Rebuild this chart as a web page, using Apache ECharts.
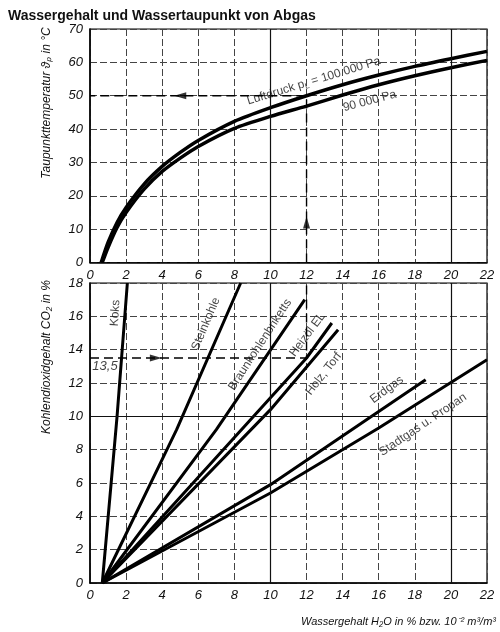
<!DOCTYPE html>
<html lang="de">
<head>
  <meta charset="UTF-8">
  <title>Wassergehalt und Wassertaupunkt von Abgas</title>
  <script src="https://cdn.jsdelivr.net/npm/echarts@6/dist/echarts.min.js"></script>
  <style>
    html, body { margin: 0; padding: 0; background: #fff; }
    #chart { width: 500px; height: 632px; }
  </style>
</head>
<body>
<div id="chart"></div>
<script>
  // Achsen-Teilung
  var xTicks = [0, 2, 4, 6, 8, 10, 12, 14, 16, 18, 20, 22]
  var dewTicks = [0, 10, 20, 30, 40, 50, 60, 70]
  var co2Ticks = [0, 2, 4, 6, 8, 10, 12, 14, 16, 18]

  // Taupunktkurven [H2O %, Taupunkt °C]
  var dew100k = [[0.62, 0], [1, 6], [1.5, 12], [2, 16.5], [3, 23.5], [4, 28.8], [5, 33], [6, 36.6], [8, 42.3],
    [10, 46.4], [12, 50], [14, 53.3], [16, 56.2], [18, 58.8], [20, 61.1], [22, 63.3]]
  var dew90k = [[0.68, 0], [1, 4.5], [1.5, 10.5], [2, 15], [3, 22], [4, 27.3], [5, 31.3], [6, 34.8], [8, 40.2],
    [10, 43.8], [12, 46.9], [14, 50.2], [16, 53.3], [18, 56], [20, 58.4], [22, 60.6]]

  // Brennstoffgeraden [H2O %, CO2 %]
  var koks = [[0.68, 0], [1.5, 10], [2.07, 18]]
  var steinkohle = [[0.68, 0], [4.8, 9.2], [8.35, 18]]
  var braunkohle = [[0.68, 0], [7.0, 9.2], [11.9, 17.0]]
  var heizoel = [[0.68, 0], [12, 13.5], [13.4, 15.6]]
  var holzTorf = [[0.68, 0], [10, 10.4], [13.75, 15.2]]
  var erdgas = [[0.68, 0], [10, 5.9], [18.6, 12.2]]
  var stadtgas = [[0.68, 0], [10, 5.4], [16, 9.3], [22, 13.4]]

  // Ablesebeispiel: CO2 13,5 % -> H2O 12 % -> Taupunkt 50 °C
  var exCo2 = 13.5
  var exH2o = 12
  var exDew = 50
  var arrowsTop = [[12, 12, 0], [5, 50, 90]]
  var arrowsBottom = [[3.65, 13.5, -90]]

  var font = 'Liberation Sans'
  var chart = echarts.init(document.getElementById('chart'))

  function xAxisCfg(grid) {
    return {
      type: 'value', gridIndex: grid,
      min: xTicks[0], max: xTicks[xTicks.length - 1], interval: xTicks[1] - xTicks[0],
      axisLine: { show: true, lineStyle: { color: '#000', width: 1.5 } },
      axisTick: { show: false },
      axisLabel: { margin: 6, color: '#111', fontSize: 13, fontStyle: 'italic', fontFamily: font },
      splitLine: { show: true, lineStyle: { color: '#444', width: 1, type: [7, 3] } }
    }
  }
  function yAxisCfg(grid, ticks) {
    return {
      type: 'value', gridIndex: grid,
      min: ticks[0], max: ticks[ticks.length - 1], interval: ticks[1] - ticks[0],
      axisLine: { show: true, lineStyle: { color: '#000', width: 1.5 } },
      axisTick: { show: false },
      axisLabel: { margin: 7, color: '#111', fontSize: 13, fontStyle: 'italic', fontFamily: font },
      splitLine: { show: true, lineStyle: { color: '#444', width: 1, type: [7, 3] } }
    }
  }
  var solidGrid = { color: '#111', width: 1.2, type: 'solid' }

  function fuelSeries(name, data) {
    return {
      name: name, type: 'line', xAxisIndex: 1, yAxisIndex: 1, data: data,
      symbol: 'none', smooth: false, silent: true,
      lineStyle: { color: '#000', width: 3 }
    }
  }

  // Beschriftungen direkt an den Kurven (in Datenkoordinaten)
  var topLabels = [
    { name: '{a|Luftdruck p}{s|L}{a| = 100 000 Pa}', value: [12.4, 54.4], label: { rotate: 17 } },
    { name: '{a|90 000 Pa}', value: [15.5, 48.4], label: { rotate: 15 } }
  ]
  var bottomLabels = [
    { name: 'Koks', value: [1.4, 16.2], label: { rotate: 86 } },
    { name: 'Steinkohle', value: [6.42, 15.55], label: { rotate: 67 } },
    { name: 'Braunkohlenbriketts', value: [9.42, 14.3], label: { rotate: 57 } },
    { name: 'Heizöl EL', value: [12.05, 14.9], label: { rotate: 53 } },
    { name: 'Holz, Torf', value: [12.95, 12.55], label: { rotate: 52 } },
    { name: 'Erdgas', value: [16.45, 11.6], label: { rotate: 36 } },
    { name: 'Stadtgas u. Propan', value: [18.45, 9.5], label: { rotate: 34 } },
    { name: '13,5', value: [0.83, 13.0], label: { rotate: 0, fontStyle: 'italic', fontSize: 13 } }
  ]

  function arrowData(list) {
    return list.map(function (a) { return { value: [a[0], a[1]], symbolRotate: a[2] } })
  }

  chart.setOption({
    animation: false,
    backgroundColor: '#fff',
    title: {
      text: 'Wassergehalt und Wassertaupunkt von Abgas',
      left: 3, top: 4,
      textStyle: { fontFamily: font, fontSize: 14, fontWeight: 'bold', color: '#111' }
    },
    grid: [
      { left: 90, right: 13, top: 29, height: 233.5, show: true, borderColor: '#000', borderWidth: 1.2 },
      { left: 90, right: 13, top: 283, height: 300, show: true, borderColor: '#000', borderWidth: 1.2 }
    ],
    xAxis: [xAxisCfg(0), xAxisCfg(1)],
    yAxis: [yAxisCfg(0, dewTicks), yAxisCfg(1, co2Ticks)],
    series: [
      {
        name: '100 000 Pa', type: 'line', xAxisIndex: 0, yAxisIndex: 0, data: dew100k,
        symbol: 'none', smooth: 0.25, silent: true,
        lineStyle: { color: '#000', width: 3.5 },
        markLine: {
          symbol: 'none', silent: true, label: { show: false }, lineStyle: solidGrid,
          data: [{ xAxis: 10 }, { xAxis: 20 }]
        }
      },
      {
        name: '90 000 Pa', type: 'line', xAxisIndex: 0, yAxisIndex: 0, data: dew90k,
        symbol: 'none', smooth: 0.25, silent: true,
        lineStyle: { color: '#000', width: 3.5 }
      },
      {
        name: 'Ablesung oben', type: 'line', xAxisIndex: 0, yAxisIndex: 0,
        data: [[exH2o, 0], [exH2o, exDew], [0, exDew]],
        symbol: 'none', silent: true,
        lineStyle: { color: '#000', width: 1.4, type: [9, 5] }
      },
      {
        name: 'Ablesung unten', type: 'line', xAxisIndex: 1, yAxisIndex: 1,
        data: [[0, exCo2], [exH2o, exCo2], [exH2o, co2Ticks[co2Ticks.length - 1]]],
        symbol: 'none', silent: true,
        lineStyle: { color: '#000', width: 1.4, type: [9, 5] },
        markLine: {
          symbol: 'none', silent: true, label: { show: false }, lineStyle: solidGrid,
          data: [{ xAxis: 10 }, { xAxis: 20 }, { yAxis: 10 }]
        }
      },
      {
        type: 'scatter', xAxisIndex: 0, yAxisIndex: 0, silent: true,
        symbol: 'triangle', symbolSize: [7, 12], itemStyle: { color: '#000' },
        data: arrowData(arrowsTop)
      },
      {
        type: 'scatter', xAxisIndex: 1, yAxisIndex: 1, silent: true,
        symbol: 'triangle', symbolSize: [7, 12], itemStyle: { color: '#000' },
        data: arrowData(arrowsBottom)
      },
      fuelSeries('Koks', koks),
      fuelSeries('Steinkohle', steinkohle),
      fuelSeries('Braunkohlenbriketts', braunkohle),
      fuelSeries('Heizöl EL', heizoel),
      fuelSeries('Holz, Torf', holzTorf),
      fuelSeries('Erdgas', erdgas),
      fuelSeries('Stadtgas u. Propan', stadtgas),
      {
        type: 'scatter', xAxisIndex: 0, yAxisIndex: 0, silent: true, symbolSize: 0,
        data: topLabels,
        label: {
          show: true, position: 'inside', formatter: function (p) { return p.name },
          rich: {
            a: { fontSize: 12, fontFamily: font, color: '#111' },
            s: { fontSize: 8, fontFamily: font, color: '#111', verticalAlign: 'bottom', padding: [6, 0, 0, 0] }
          }
        }
      },
      {
        type: 'scatter', xAxisIndex: 1, yAxisIndex: 1, silent: true, symbolSize: 0,
        data: bottomLabels,
        label: {
          show: true, position: 'inside', formatter: function (p) { return p.name },
          fontSize: 12, fontFamily: font, color: '#111'
        }
      }
    ],
    graphic: [
      {
        type: 'text', x: 47, y: 103, rotation: Math.PI / 2,
        style: {
          text: 'Taupunkttemperatur ϑₚ in °C', fill: '#111',
          font: 'italic 12px "Liberation Sans"', textAlign: 'center', textVerticalAlign: 'middle'
        }
      },
      {
        type: 'text', x: 47, y: 357, rotation: Math.PI / 2,
        style: {
          text: 'Kohlendioxidgehalt CO₂ in %', fill: '#111',
          font: 'italic 12px "Liberation Sans"', textAlign: 'center', textVerticalAlign: 'middle'
        }
      },
      {
        type: 'text', x: 496, y: 622,
        style: {
          text: 'Wassergehalt H₂O in % bzw. 10⁻² m³/m³', fill: '#111',
          font: 'italic 11px "Liberation Sans"', textAlign: 'right', textVerticalAlign: 'middle'
        }
      }
    ]
  })
</script>
</body>
</html>
